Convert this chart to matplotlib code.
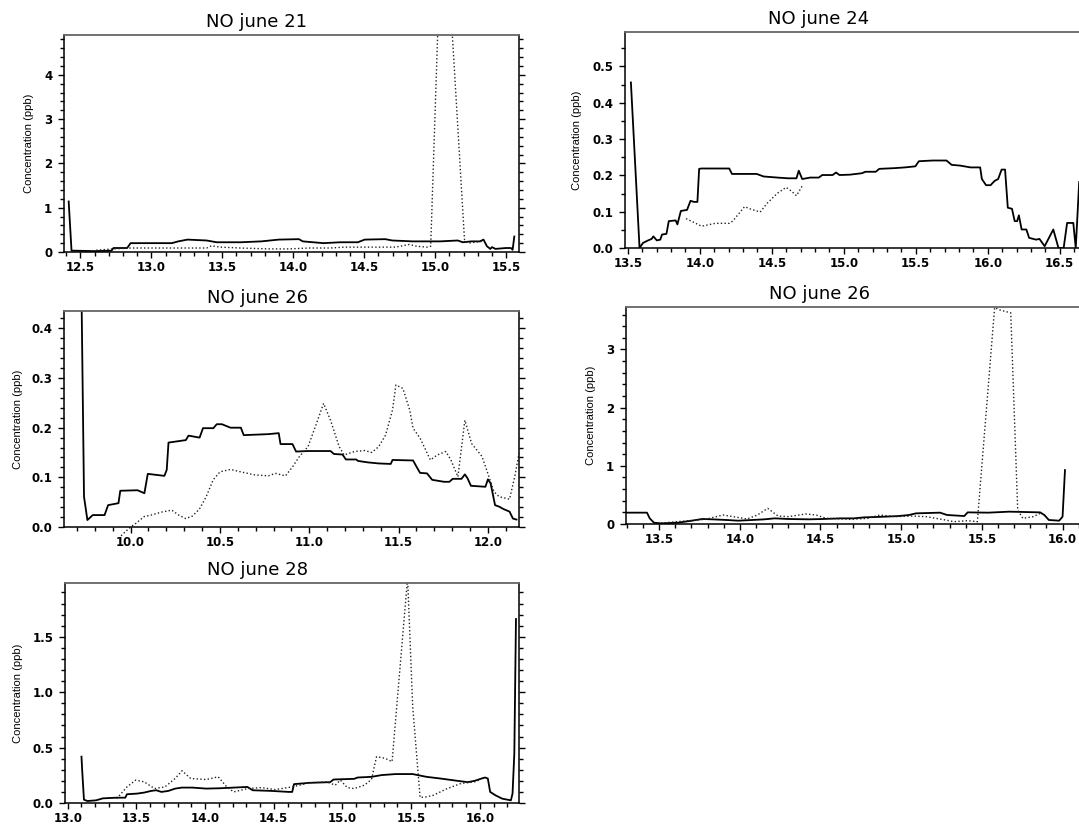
import matplotlib

matplotlib.use("Agg")
import matplotlib.pyplot as plt  # noqa: E402
from matplotlib.ticker import FormatStrFormatter, MultipleLocator  # noqa: E402

# ---- NO june 21 ----
jun21_solid_t = [12.418, 12.438, 12.455, 12.60, 12.72, 12.733, 12.83, 12.854, 13.145, 13.19,
                 13.255, 13.39, 13.46, 13.63, 13.776, 13.897, 14.04, 14.067, 14.212, 14.333,
                 14.455, 14.503, 14.648, 14.697, 14.84, 15.036, 15.158, 15.194, 15.255, 15.315,
                 15.34, 15.364, 15.388, 15.40, 15.424, 15.497, 15.533, 15.545, 15.557]
jun21_solid_c = [1.14, 0.03, 0.03, 0.02, 0.03, 0.09, 0.09, 0.20, 0.20, 0.24,
                 0.28, 0.26, 0.22, 0.22, 0.24, 0.28, 0.29, 0.24, 0.20, 0.22,
                 0.22, 0.28, 0.29, 0.26, 0.24, 0.24, 0.26, 0.22, 0.24, 0.24,
                 0.28, 0.13, 0.07, 0.11, 0.07, 0.09, 0.09, 0.05, 0.35]
jun21_dot_t = [12.612, 12.733, 12.854, 13.0, 13.145, 13.39, 13.424, 13.485, 13.63, 13.824,
               13.97, 14.115, 14.26, 14.358, 14.55, 14.72, 14.818, 14.867, 14.94, 14.968,
               15.02, 15.115, 15.206, 15.23, 15.327]
jun21_dot_c = [0.04, 0.07, 0.09, 0.09, 0.09, 0.09, 0.14, 0.11, 0.09, 0.07,
               0.07, 0.09, 0.09, 0.11, 0.11, 0.11, 0.17, 0.13, 0.11, 0.13,
               5.2, 5.2, 0.28, 0.20, 0.24]

# ---- NO june 24 ----
jun24_solid_t = [13.521, 13.581, 13.605, 13.641, 13.665, 13.677, 13.701, 13.725, 13.737, 13.768,
                 13.784, 13.832, 13.844, 13.868, 13.911, 13.935, 13.959, 13.983, 13.995, 14.012,
                 14.204, 14.223, 14.395, 14.443, 14.539, 14.611, 14.671, 14.687, 14.711, 14.766,
                 14.826, 14.85, 14.922, 14.946, 14.97, 15.042, 15.126, 15.15, 15.222, 15.246,
                 15.353, 15.425, 15.497, 15.521, 15.617, 15.713, 15.749, 15.808, 15.88, 15.947,
                 15.959, 15.988, 16.019, 16.048, 16.072, 16.096, 16.12, 16.139, 16.168, 16.187,
                 16.204, 16.216, 16.235, 16.268, 16.287, 16.335, 16.359, 16.395, 16.455, 16.491,
                 16.527, 16.551, 16.594, 16.611, 16.635]
jun24_solid_c = [0.456, 0.0, 0.014, 0.021, 0.025, 0.032, 0.021, 0.023, 0.037, 0.039,
                 0.074, 0.076, 0.065, 0.102, 0.105, 0.13, 0.127, 0.127, 0.218, 0.219,
                 0.219, 0.204, 0.204, 0.197, 0.194, 0.192, 0.192, 0.213, 0.19, 0.194,
                 0.194, 0.201, 0.201, 0.208, 0.201, 0.202, 0.206, 0.21, 0.21, 0.218,
                 0.22, 0.222, 0.225, 0.239, 0.241, 0.241, 0.229, 0.227, 0.222, 0.222,
                 0.19, 0.173, 0.173, 0.185, 0.19, 0.216, 0.216, 0.111, 0.108, 0.074,
                 0.074, 0.09, 0.051, 0.051, 0.028, 0.023, 0.025, 0.005, 0.051, 0.0,
                 0.0, 0.069, 0.069, 0.0, 0.182]
jun24_dot_t = [13.904, 14.012, 14.108, 14.204, 14.228, 14.311, 14.347, 14.419, 14.467, 14.539,
               14.599, 14.635, 14.671, 14.711]
jun24_dot_c = [0.081, 0.06, 0.068, 0.068, 0.074, 0.114, 0.108, 0.099, 0.123, 0.151,
               0.167, 0.157, 0.144, 0.171]

# ---- NO june 26 (morning) ----
jun26a_solid_t = [9.720, 9.726, 9.739, 9.758, 9.788, 9.854, 9.874, 9.932, 9.942, 10.039,
                  10.077, 10.096, 10.189, 10.202, 10.212, 10.309, 10.324, 10.386, 10.405, 10.463,
                  10.482, 10.511, 10.559, 10.617, 10.633, 10.771, 10.829, 10.839, 10.906, 10.926,
                  10.993, 11.119, 11.138, 11.186, 11.205, 11.263, 11.273, 11.331, 11.389, 11.456,
                  11.466, 11.581, 11.601, 11.62, 11.659, 11.688, 11.755, 11.784, 11.803, 11.852,
                  11.871, 11.886, 11.905, 11.986, 12.0, 12.015, 12.04, 12.063, 12.088, 12.121,
                  12.14, 12.16]
jun26a_solid_c = [0.60, 0.44, 0.061, 0.014, 0.024, 0.024, 0.044, 0.048, 0.073, 0.074,
                  0.068, 0.107, 0.103, 0.115, 0.17, 0.175, 0.184, 0.18, 0.199, 0.199,
                  0.207, 0.207, 0.2, 0.2, 0.185, 0.187, 0.189, 0.167, 0.167, 0.152,
                  0.153, 0.153, 0.147, 0.146, 0.136, 0.136, 0.133, 0.13, 0.128, 0.127,
                  0.135, 0.134, 0.121, 0.109, 0.108, 0.095, 0.091, 0.091, 0.097, 0.097,
                  0.106, 0.098, 0.083, 0.081, 0.096, 0.088, 0.044, 0.041, 0.036, 0.031,
                  0.017, 0.015]
jun26a_dot_t = [9.932, 9.96, 10.0, 10.028, 10.076, 10.115, 10.173, 10.23, 10.269, 10.308,
                10.346, 10.385, 10.423, 10.462, 10.5, 10.559, 10.617, 10.694, 10.771, 10.81,
                10.867, 10.906, 10.945, 10.993, 11.041, 11.08, 11.119, 11.167, 11.195, 11.253,
                11.311, 11.35, 11.389, 11.427, 11.466, 11.485, 11.524, 11.562, 11.581, 11.62,
                11.678, 11.716, 11.764, 11.793, 11.832, 11.871, 11.909, 11.967, 12.006, 12.034,
                12.063, 12.121, 12.15, 12.174]
jun26a_dot_c = [-0.023, -0.013, 0.0, 0.007, 0.021, 0.024, 0.03, 0.034, 0.024, 0.017,
                0.022, 0.036, 0.061, 0.095, 0.111, 0.116, 0.111, 0.105, 0.103, 0.108,
                0.103, 0.121, 0.142, 0.162, 0.209, 0.249, 0.215, 0.162, 0.145, 0.152,
                0.154, 0.15, 0.162, 0.185, 0.236, 0.286, 0.279, 0.236, 0.199, 0.179,
                0.135, 0.145, 0.152, 0.135, 0.101, 0.215, 0.168, 0.142, 0.101, 0.071,
                0.061, 0.056, 0.101, 0.148]

# ---- NO june 26 (afternoon) ----
jun26b_solid_t = [13.297, 13.425, 13.442, 13.468, 13.511, 13.618, 13.703, 13.767, 13.831, 13.917,
                  13.991, 14.077, 14.152, 14.216, 14.301, 14.429, 14.515, 14.622, 14.707, 14.771,
                  14.9, 14.985, 15.049, 15.092, 15.241, 15.284, 15.391, 15.412, 15.541, 15.669,
                  15.861, 15.887, 15.915, 15.979, 16.0, 16.015]
jun26b_solid_c = [0.195, 0.195, 0.097, 0.023, 0.011, 0.023, 0.057, 0.086, 0.08, 0.069,
                  0.057, 0.069, 0.08, 0.097, 0.086, 0.08, 0.086, 0.097, 0.097, 0.114,
                  0.126, 0.137, 0.155, 0.183, 0.195, 0.155, 0.137, 0.2, 0.195, 0.212,
                  0.2, 0.155, 0.069, 0.057, 0.126, 0.927]
jun26b_dot_t = [13.489, 13.682, 13.788, 13.895, 13.959, 14.045, 14.109, 14.173, 14.237, 14.301,
                14.408, 14.472, 14.536, 14.686, 14.793, 14.868, 14.964, 15.071, 15.156, 15.252,
                15.327, 15.412, 15.472, 15.579, 15.615, 15.679, 15.722, 15.754, 15.818, 15.861]
jun26b_dot_c = [0.011, 0.057, 0.08, 0.155, 0.126, 0.086, 0.155, 0.269, 0.137, 0.126,
                0.172, 0.155, 0.097, 0.08, 0.097, 0.155, 0.126, 0.137, 0.126, 0.08,
                0.04, 0.057, 0.04, 3.72, 3.675, 3.63, 0.24, 0.097, 0.126, 0.183]

# ---- NO june 28 ----
jun28_solid_t = [13.1, 13.105, 13.118, 13.143, 13.206, 13.256, 13.356, 13.419, 13.431, 13.506,
                 13.556, 13.607, 13.644, 13.682, 13.732, 13.782, 13.832, 13.907, 14.008, 14.108,
                 14.208, 14.308, 14.346, 14.484, 14.609, 14.634, 14.647, 14.759, 14.91, 14.935,
                 15.085, 15.11, 15.211, 15.286, 15.386, 15.511, 15.612, 15.712, 15.837, 15.912,
                 15.962, 16.013, 16.038, 16.058, 16.075, 16.113, 16.163, 16.226, 16.238, 16.251,
                 16.263]
jun28_solid_c = [0.418, 0.297, 0.03, 0.018, 0.024, 0.042, 0.048, 0.048, 0.079, 0.085,
                 0.094, 0.109, 0.115, 0.1, 0.109, 0.13, 0.139, 0.139, 0.13, 0.133,
                 0.139, 0.145, 0.115, 0.109, 0.1, 0.1, 0.17, 0.182, 0.188, 0.212,
                 0.218, 0.23, 0.236, 0.252, 0.261, 0.261, 0.236, 0.221, 0.2, 0.188,
                 0.2, 0.221, 0.23, 0.221, 0.1, 0.07, 0.039, 0.024, 0.085, 0.448,
                 1.66]
jun28_dot_t = [13.356, 13.431, 13.494, 13.556, 13.632, 13.707, 13.782, 13.832, 13.895, 14.008,
               14.095, 14.158, 14.208, 14.308, 14.409, 14.509, 14.634, 14.759, 14.885, 14.947,
               14.985, 15.035, 15.085, 15.16, 15.211, 15.248, 15.311, 15.361, 15.474, 15.511,
               15.565, 15.61, 15.662, 15.762, 15.862, 15.962, 16.0]
jun28_dot_c = [0.039, 0.145, 0.206, 0.191, 0.13, 0.145, 0.221, 0.291, 0.221, 0.212,
               0.236, 0.145, 0.1, 0.13, 0.139, 0.121, 0.145, 0.182, 0.191, 0.161,
               0.206, 0.139, 0.13, 0.161, 0.212, 0.418, 0.403, 0.373, 2.03, 0.873,
               0.05, 0.055, 0.07, 0.13, 0.176, 0.191, 0.21]

titles = ["NO june 21", "NO june 24", "NO june 26", "NO june 26", "NO june 28"]

W, H = 1079, 824
# axes boxes in pixels: left, right, top, bottom
panels = [
    dict(box=(64, 519, 35, 252), xlim=(12.385, 15.59), ylim=(0, 4.9), ymaj=1, ymin=0.2,
         yfmt="%d", solid=(jun21_solid_t, jun21_solid_c), dot=(jun21_dot_t, jun21_dot_c),
         right=True, tx=0.424, lx=-0.065, dot_clip=True),
    dict(box=(625, 1090, 32, 248), xlim=(13.48, 16.71), ylim=(0, 0.595), ymaj=0.1, ymin=0.05,
         yfmt="%.1f", solid=(jun24_solid_t, jun24_solid_c), dot=(jun24_dot_t, jun24_dot_c),
         right=False, tx=0.416, lx=-0.092, dot_clip=True),
    dict(box=(64, 519, 311, 527), xlim=(9.627, 12.174), ylim=(0, 0.435), ymaj=0.1, ymin=0.02,
         yfmt="%.1f", solid=(jun26a_solid_t, jun26a_solid_c), dot=(jun26a_dot_t, jun26a_dot_c),
         right=True, tx=0.425, lx=-0.090, dot_clip=False),
    dict(box=(626, 1090, 307, 524), xlim=(13.295, 16.17), ylim=(0, 3.73), ymaj=1, ymin=0.2,
         yfmt="%d", solid=(jun26b_solid_t, jun26b_solid_c), dot=(jun26b_dot_t, jun26b_dot_c),
         right=False, tx=0.416, lx=-0.064, dot_clip=True),
    dict(box=(65, 519, 583, 803), xlim=(12.98, 16.285), ylim=(0, 1.985), ymaj=0.5, ymin=0.1,
         yfmt="%.1f", solid=(jun28_solid_t, jun28_solid_c), dot=(jun28_dot_t, jun28_dot_c),
         right=True, tx=0.425, lx=-0.092, dot_clip=True),
]

plt.rcParams["font.family"] = ["DejaVu Sans"]

fig = plt.figure(figsize=(W / 100, H / 100), dpi=100)

for title, p in zip(titles, panels):
    l, r, t, b = p["box"]
    ax = fig.add_axes([l / W, 1 - b / H, (r - l) / W, (b - t) / H])
    ax.plot(*p["solid"], color="black", linewidth=1.3)
    ax.plot(*p["dot"], color="#222222", linewidth=1.0, linestyle=":", clip_on=p["dot_clip"])
    ax.set_xlim(*p["xlim"])
    ax.set_ylim(*p["ylim"])

    ax.xaxis.set_major_locator(MultipleLocator(0.5))
    ax.xaxis.set_minor_locator(MultipleLocator(0.1))
    ax.xaxis.set_major_formatter(FormatStrFormatter("%.1f"))
    ax.yaxis.set_major_locator(MultipleLocator(p["ymaj"]))
    ax.yaxis.set_minor_locator(MultipleLocator(p["ymin"]))
    ax.yaxis.set_major_formatter(FormatStrFormatter(p["yfmt"]))

    ax.tick_params(which="both", direction="out", top=False, right=p["right"],
                   labelsize=8.5, width=1.0)
    ax.tick_params(which="major", length=4.5)
    ax.tick_params(which="minor", length=2.8)
    ax.tick_params(axis="x", which="major", pad=2)
    ax.tick_params(axis="y", which="major", pad=4)
    for lab in ax.get_xticklabels() + ax.get_yticklabels():
        lab.set_fontweight("bold")

    for side in ("left", "bottom", "right"):
        ax.spines[side].set_linewidth(1.1)
    ax.spines["top"].set_color("#666666")
    ax.spines["top"].set_linewidth(1.3)

    ax.set_title(title, fontsize=13, x=p["tx"], pad=6)
    ax.set_ylabel("Concentration (ppb)", fontsize=8, family=["Liberation Sans"])
    ax.yaxis.set_label_coords(p["lx"], 0.5)

fig.savefig("out.png", dpi=100)
